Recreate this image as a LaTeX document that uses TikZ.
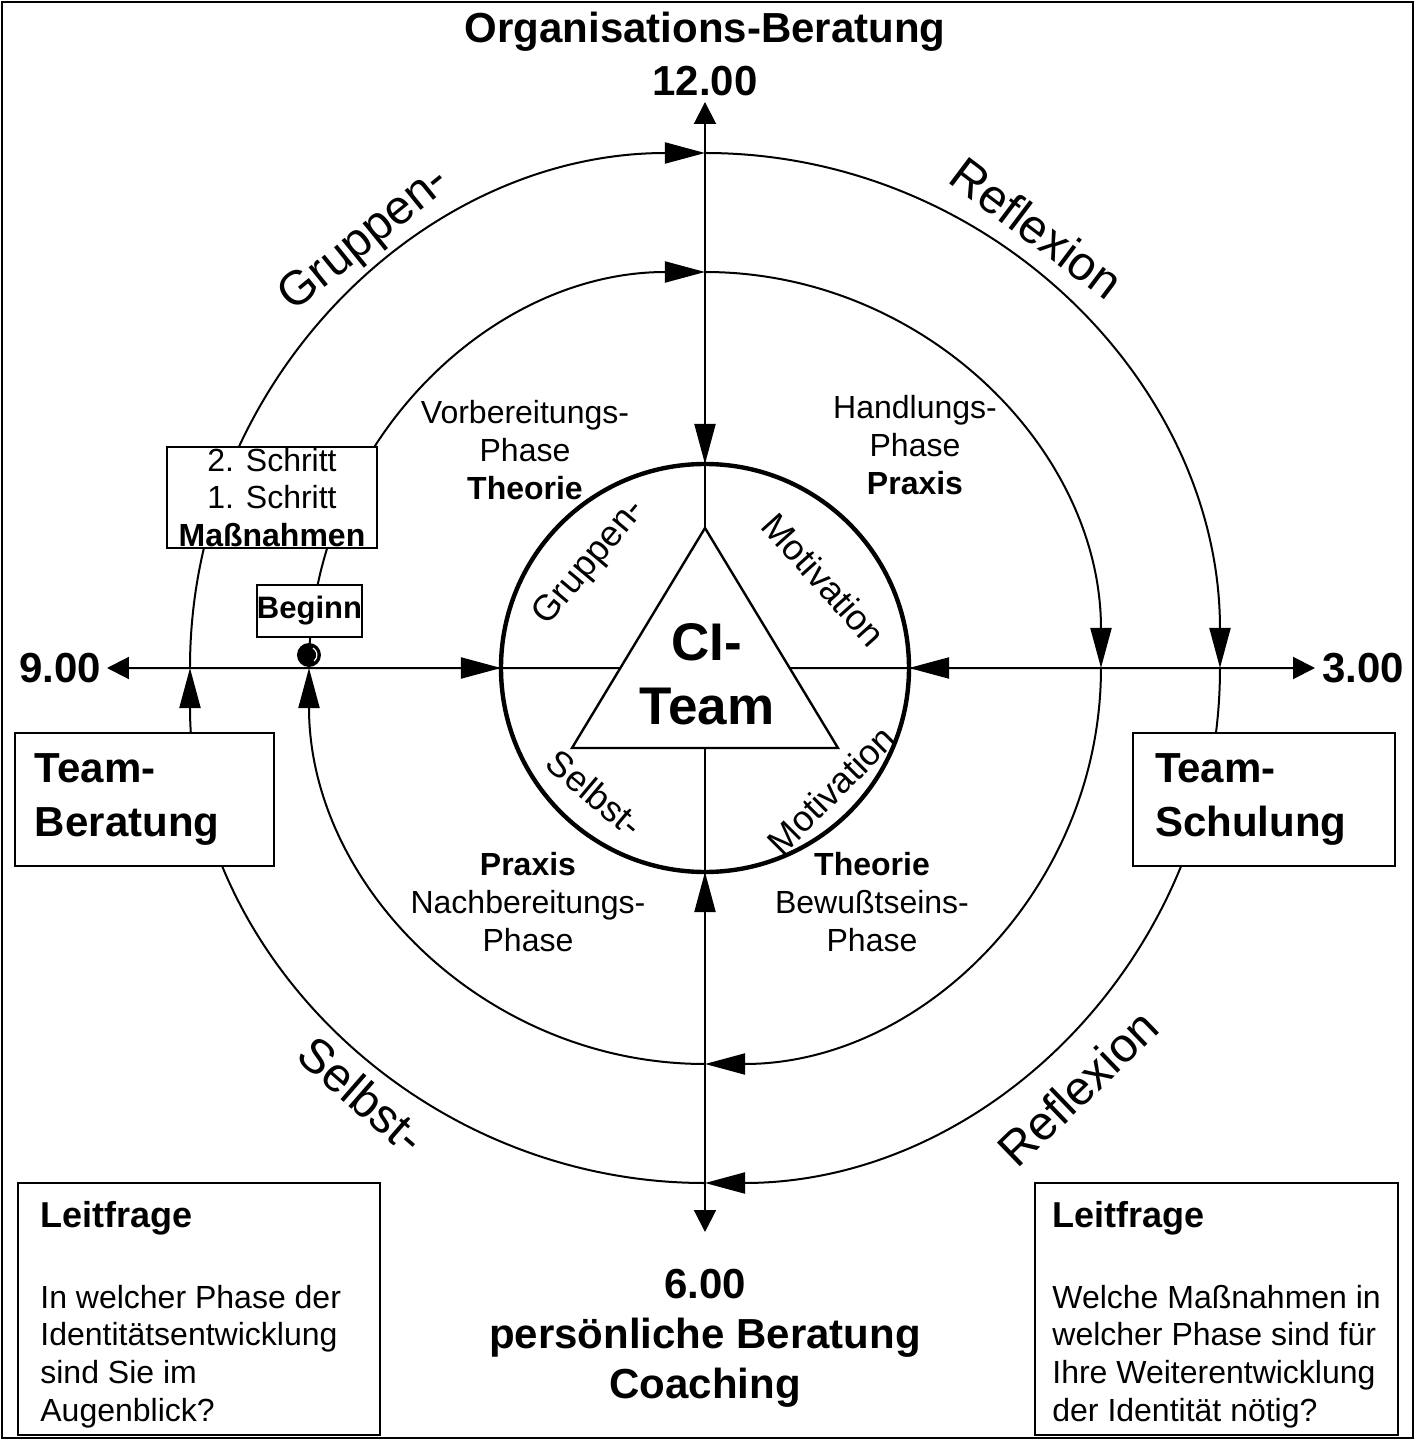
\documentclass[tikz,border=0pt]{standalone}
\usepackage{fontspec}
\setmainfont{Liberation Sans}
\usetikzlibrary{arrows.meta,calc}

\tikzset{
  rim/.style={line width=1pt},
  axis/.style={line width=1pt},
  endtip/.style={-{Triangle[length=11pt,width=11pt]}},
  runtip/.style={-{Triangle[length=20pt,width=10.5pt]}},
  box/.style={draw, line width=1.1pt, fill=white, inner sep=0pt},
  small/.style={font=\fontsize{16}{19}\selectfont, align=center, inner sep=0pt},
  big/.style={font=\fontsize{21}{25}\selectfont\bfseries, inner sep=0pt},
  arctext/.style={font=\fontsize{24}{28}\selectfont, inner sep=0pt},
  coretext/.style={font=\fontsize{18}{20}\selectfont, inner sep=0pt},
  qtext/.style={font=\fontsize{16}{19}\selectfont, anchor=base west, inner sep=0pt},
  qhead/.style={font=\fontsize{18}{22}\selectfont\bfseries, anchor=base west, inner sep=0pt}
}

\begin{document}
\begin{tikzpicture}[x=0.5pt, y=0.5pt]
\useasboundingbox (-705,668) rectangle (715,-772);
% frame
\draw[line width=1.2pt] (-703,666) rectangle (708,-770);

% key points
\coordinate (c) at (0,0);
\coordinate (n12) at (0,566);
\coordinate (s6) at (0,-564);
\coordinate (w9) at (-598,0);
\coordinate (e3) at (610,0);
\coordinate (apex) at (0,140);
\coordinate (bl) at (-133,-80);
\coordinate (br) at (133,-80);
\coordinate (bm) at (0,-80);
\coordinate (tw) at ($(bl)!0.3636!(apex)$);
\coordinate (te) at ($(br)!0.3636!(apex)$);
\coordinate (kn) at (90:204);
\coordinate (ks) at (-90:204);
\coordinate (kw) at (180:204);
\coordinate (ke) at (0:204);

% the two running circles
\foreach \a in {180,90,0,-90}{
  \draw[rim, runtip] (\a:515) arc (\a:\a-90:515);
  \draw[rim, runtip] (\a:396) arc (\a:\a-90:396);
}

% axes
\draw[axis, endtip] (apex) -- (n12);
\draw[axis, endtip] (bm) -- (s6);
\draw[axis, endtip] (tw) -- (w9);
\draw[axis, endtip] (te) -- (e3);
\draw[axis, runtip] ($(n12)!0.5!(kn)$) -- (kn);
\draw[axis, runtip] ($(s6)!0.5!(ks)$) -- (ks);
\draw[axis, runtip] ($(w9)!0.5!(kw)$) -- (kw);
\draw[axis, runtip] ($(e3)!0.5!(ke)$) -- (ke);

% core
\draw[line width=2.2pt] (c) circle (204);
\draw[line width=1.2pt] (apex) -- (bl) -- (br) -- cycle;
\node[font=\fontsize{26.5}{32}\selectfont\bfseries, align=center, inner sep=0pt] (ci) at (2,-6) {CI-\\Team};

\node[coretext, rotate=50] (kgr) at (-115,105) {Gruppen-};
\node[coretext, rotate=-48] (kmo) at (119,88) {Motivation};
\node[coretext, rotate=-40] (kse) at (-110,-125) {Selbst-};
\node[coretext, rotate=45] (kmu) at (126,-122) {Motivation};

% words on the outer circle
\node[arctext, rotate=39] (ogr) at (-340,428) {Gruppen-};
\node[arctext, rotate=-37] (ore) at (332,440) {Reflexion};
\node[arctext, rotate=-41] (ose) at (-343,-427) {Selbst-};
\node[arctext, rotate=44] (oru) at (373,-420) {Reflexion};

% phases
\node[small] (prep) at (-180,218) {Vorbereitungs-\\Phase\\\textbf{Theorie}};
\node[small] (act) at (210,223) {Handlungs-\\Phase\\\textbf{Praxis}};
\node[small] (post) at (-177,-234) {\textbf{Praxis}\\Nachbereitungs-\\Phase};
\node[small] (aware) at (167,-234) {\textbf{Theorie}\\Bewußtseins-\\Phase};

% boxes on the circles
\node[box, small, font=\fontsize{16}{18.75}\selectfont, minimum width=105pt, minimum height=50.5pt] (steps) at (-433,170.5) {2. Schritt\\1. Schritt\\\textbf{Maßnahmen}};
\node[box, font=\fontsize{15.5}{18}\selectfont\bfseries, minimum width=51.5pt, minimum height=26pt] (start) at (-395.5,57) {Beginn};
\coordinate (dot) at (-396,13);
\fill (dot) circle (6pt);
\draw[white, line width=0.6pt] (dot) ++(-50:4pt) arc (-50:60:4pt);

\node[box, font=\fontsize{21}{27}\selectfont\bfseries, align=left, text width=109.5pt, inner xsep=10pt, minimum height=66.5pt] (tb) at (-560.5,-131.5) {Team-\\Beratung};
\node[box, font=\fontsize{21}{27}\selectfont\bfseries, align=left, text width=109pt, inner xsep=11pt, minimum height=66.5pt] (ts) at (559,-131.5) {Team-\\Schulung};

% clock labels
\node[big] (org) at (0,636) {Organisations-Beratung};
\node[big] (noon) at (0,587) {12.00};
\node[big] (nine) at (-645,0) {9.00};
\node[big] (three) at (658,0) {3.00};
\node[big, align=center] (coach) at (0,-670) {6.00\\persönliche Beratung\\Coaching};

% guiding questions
\node[box, minimum width=181pt, minimum height=126pt] (qleft) at (-506,-641) {};
\node[qhead] (qlhead) at (-665,-559) {Leitfrage};
\foreach \txt [count=\i] in {In welcher Phase der, Identitätsentwicklung, sind Sie im, Augenblick?}
  \node[qtext] (ql\i) at (-665,{-640-37.7*(\i-1)}) {\txt};

\node[box, minimum width=181.5pt, minimum height=126pt] (qright) at (511.5,-641) {};
\node[qhead] (qrhead) at (347,-559) {Leitfrage};
\foreach \txt [count=\i] in {Welche Maßnahmen in, welcher Phase sind für, Ihre Weiterentwicklung, der Identität nötig?}
  \node[qtext] (qr\i) at (347,{-640-37.7*(\i-1)}) {\txt};
\end{tikzpicture}
\end{document}
